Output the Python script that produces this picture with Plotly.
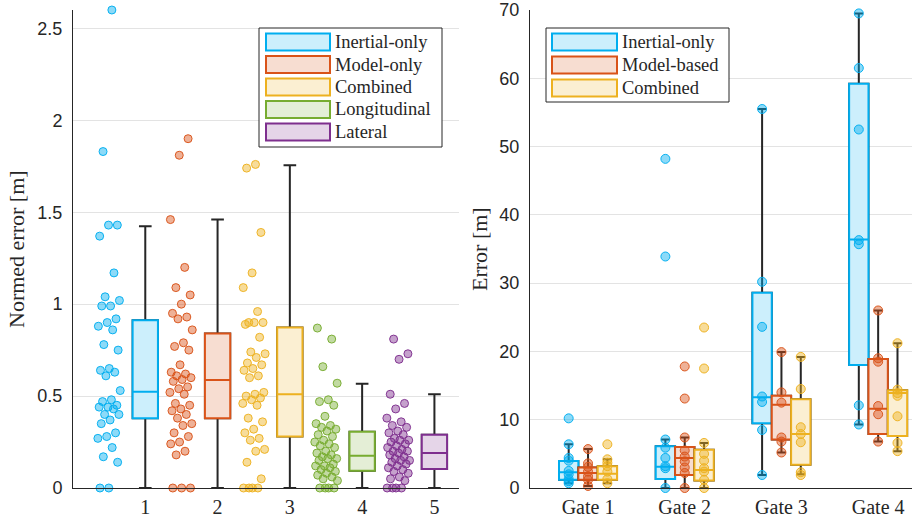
import plotly.graph_objects as go

W, H = 912, 521

# ---------------- Left panel data (Normed error [m]) ----------------
left_names = ["Inertial-only", "Model-only", "Combined", "Longitudinal", "Lateral"]
left_positions = [1, 2, 3, 4, 5]

inertial_only = [2.6, 1.83, 1.43, 1.43, 1.37, 1.17, 1.04, 1.02, 0.99, 0.99, 0.92, 0.90, 0.88,
                 0.86, 0.78, 0.75, 0.65, 0.64, 0.63, 0.61, 0.53, 0.48, 0.47, 0.45, 0.44, 0.44,
                 0.43, 0.40, 0.40, 0.37, 0.35, 0.30, 0.28, 0.27, 0.22, 0.17, 0.14, 0.0, 0.0]
model_only = [1.90, 1.81, 1.46, 1.20, 1.09, 1.05, 1.00, 0.95, 0.93, 0.92, 0.86, 0.79, 0.77,
              0.75, 0.67, 0.63, 0.62, 0.61, 0.60, 0.59, 0.58, 0.55, 0.54, 0.52, 0.51, 0.46,
              0.45, 0.43, 0.42, 0.40, 0.38, 0.35, 0.34, 0.30, 0.28, 0.25, 0.24, 0.20, 0.18,
              0.0, 0.0, 0.0]
combined = [2.00, 1.76, 1.74, 1.39, 1.17, 1.09, 0.96, 0.90, 0.90, 0.90, 0.89, 0.82, 0.74,
            0.73, 0.71, 0.68, 0.67, 0.65, 0.64, 0.61, 0.60, 0.52, 0.51, 0.50, 0.49, 0.48,
            0.46, 0.45, 0.38, 0.36, 0.32, 0.30, 0.27, 0.26, 0.21, 0.20, 0.14, 0.05,
            0.0, 0.0, 0.0, 0.0]
longitudinal = [0.87, 0.81, 0.66, 0.57, 0.48, 0.47, 0.45, 0.39, 0.35, 0.34, 0.33, 0.32, 0.31,
                0.29, 0.28, 0.26, 0.25, 0.24, 0.23, 0.22, 0.20, 0.19, 0.18, 0.17, 0.16, 0.16,
                0.15, 0.13, 0.12, 0.12, 0.11, 0.10, 0.09, 0.08, 0.07, 0.06, 0.05, 0.04,
                0.0, 0.0, 0.0, 0.0]
lateral = [0.81, 0.73, 0.70, 0.51, 0.46, 0.43, 0.38, 0.36, 0.34, 0.33, 0.31, 0.30, 0.29, 0.27,
           0.26, 0.26, 0.25, 0.24, 0.23, 0.22, 0.21, 0.20, 0.20, 0.19, 0.18, 0.17, 0.16, 0.15,
           0.15, 0.14, 0.13, 0.12, 0.11, 0.10, 0.09, 0.08, 0.06, 0.05, 0.04, 0.0, 0.0, 0.0, 0.0]
left_series = [inertial_only, model_only, combined, longitudinal, lateral]

left_q1 = [0.38, 0.38, 0.28, 0.094, 0.103]
left_median = [0.524, 0.587, 0.51, 0.176, 0.19]
left_q3 = [0.913, 0.84, 0.873, 0.306, 0.29]
left_whisker_lo = [0.0, 0.0, 0.0, 0.0, 0.0]
left_whisker_hi = [1.424, 1.46, 1.755, 0.567, 0.51]
left_yticks = [0, 0.5, 1, 1.5, 2, 2.5]
left_xticktext = ["1", "2", "3", "4", "5"]

# ---------------- Right panel data (Error [m]) ----------------
gate_labels = ["Gate 1", "Gate 2", "Gate 3", "Gate 4"]
gate_positions = [1, 2, 3, 4]
right_names = ["Inertial-only", "Model-based", "Combined"]

inertial_pts = [[10.2, 6.4, 4.4, 4.0, 2.5, 2.0, 1.3, 1.0, 0.7],
                [48.2, 33.9, 7.1, 5.9, 4.4, 3.2, 2.9, 0.0],
                [55.5, 30.2, 23.6, 13.4, 12.6, 8.5, 1.9],
                [69.5, 61.5, 52.5, 36.3, 35.7, 12.1, 9.3]]
model_pts = [[5.7, 3.6, 3.1, 2.4, 1.7, 1.2, 0.3],
             [17.8, 13.1, 7.4, 5.5, 4.6, 3.9, 3.0, 2.2, 0.0],
             [19.9, 14.0, 12.5, 7.4, 6.8, 5.2],
             [26.0, 19.0, 18.5, 12.0, 10.8, 6.8]]
combined_pts = [[6.4, 4.2, 3.7, 3.2, 2.4, 1.3, 0.7],
                [23.5, 17.5, 6.6, 5.0, 4.0, 2.9, 2.4, 1.2, 0.0],
                [19.2, 14.5, 8.9, 7.9, 6.7, 2.3, 1.9],
                [21.2, 14.4, 13.9, 13.5, 10.5, 6.6, 5.4]]
right_points = [inertial_pts, model_pts, combined_pts]

inertial_q1 = [1.2, 1.3, 9.5, 18.0]
inertial_med = [2.3, 3.1, 13.3, 36.4]
inertial_q3 = [3.95, 6.1, 28.6, 59.2]
inertial_lo = [0.7, 0.0, 1.9, 9.3]
inertial_hi = [6.4, 7.1, 55.5, 69.5]

model_q1 = [1.2, 1.9, 7.1, 7.9]
model_med = [2.2, 4.4, 12.2, 11.6]
model_q3 = [3.0, 6.0, 13.5, 18.9]
model_lo = [0.3, 0.0, 5.2, 6.8]
model_hi = [5.7, 7.4, 19.9, 26.0]

comb_q1 = [1.2, 1.1, 3.4, 7.6]
comb_med = [2.1, 2.65, 7.9, 13.9]
comb_q3 = [3.2, 5.6, 13.0, 14.3]
comb_lo = [0.7, 0.0, 2.0, 5.4]
comb_hi = [4.2, 6.6, 19.2, 21.2]

right_stats = [
    (inertial_q1, inertial_med, inertial_q3, inertial_lo, inertial_hi),
    (model_q1, model_med, model_q3, model_lo, model_hi),
    (comb_q1, comb_med, comb_q3, comb_lo, comb_hi),
]
right_yticks = [0, 10, 20, 30, 40, 50, 60, 70]

# ---------------- Styles ----------------
BLUE = (0, 174, 239)
ORANGE = (217, 83, 25)
YELLOW = (237, 177, 32)
GREEN = (119, 172, 48)
PURPLE = (126, 47, 142)
left_colors = [BLUE, ORANGE, YELLOW, GREEN, PURPLE]
right_colors = [BLUE, ORANGE, YELLOW]
DARK = "#262626"
GRID = "#e3e3e3"
SERIF = "Liberation Serif"
SANS = "Liberation Sans"


def rgba(c, a=1.0):
    return f"rgba({c[0]},{c[1]},{c[2]},{a})"


def tint(c, a=0.2):
    r, g, b = (round(255 - a * (255 - v)) for v in c)
    return f"rgb({r},{g},{b})"


def golden_jitter(n, seed, spread):
    return [(((i + 1) * 0.6180339887 + seed) % 1.0 - 0.5) * spread for i in range(n)]


fig = go.Figure()

# ---- Left panel boxes ----
for i, c in enumerate(left_colors):
    pos = [left_positions[i]]
    fig.add_trace(go.Box(
        x=pos, q1=[left_q1[i]], median=[left_median[i]], q3=[left_q3[i]],
        lowerfence=[left_whisker_lo[i]], upperfence=[left_whisker_hi[i]],
        width=0.35, whiskerwidth=0.5, boxpoints=False,
        line=dict(color=DARK, width=2), fillcolor="rgba(0,0,0,0)",
        xaxis="x", yaxis="y", showlegend=False, hoverinfo="skip"))
    fig.add_trace(go.Box(
        x=pos, q1=[left_q1[i]], median=[left_median[i]], q3=[left_q3[i]],
        lowerfence=[left_q1[i]], upperfence=[left_q3[i]],
        width=0.35, whiskerwidth=0, boxpoints=False,
        line=dict(color=rgba(c), width=2), fillcolor=tint(c, 0.2),
        xaxis="x", yaxis="y", name=left_names[i], showlegend=False))

# ---- Left panel jittered points ----
for i, c in enumerate(left_colors):
    vals = left_series[i]
    jit = golden_jitter(len(vals), 0.17 * i, 0.32)
    fig.add_trace(go.Scatter(
        x=[left_positions[i] - 0.5 + j for j in jit], y=vals, mode="markers",
        marker=dict(size=8, color=rgba(c, 0.45), line=dict(color=rgba(c, 0.95), width=1)),
        cliponaxis=False, xaxis="x", yaxis="y", showlegend=False, hoverinfo="y"))

# ---- Right panel boxes ----
offsets = [-0.2, 0.0, 0.2]
for s, c in enumerate(right_colors):
    q1, med, q3, lo, hi = right_stats[s]
    xs = [g + offsets[s] for g in gate_positions]
    fig.add_trace(go.Box(
        x=xs, q1=q1, median=med, q3=q3, lowerfence=lo, upperfence=hi,
        width=0.2, whiskerwidth=0.45, boxpoints=False,
        line=dict(color=DARK, width=2), fillcolor="rgba(0,0,0,0)",
        xaxis="x2", yaxis="y2", showlegend=False, hoverinfo="skip"))
    fig.add_trace(go.Box(
        x=xs, q1=q1, median=med, q3=q3, lowerfence=q1, upperfence=q3,
        width=0.2, whiskerwidth=0, boxpoints=False,
        line=dict(color=rgba(c), width=2), fillcolor=tint(c, 0.2),
        xaxis="x2", yaxis="y2", name=right_names[s], showlegend=False))

# ---- Right panel points ----
for s, c in enumerate(right_colors):
    xs, ys = [], []
    for g, pts in zip(gate_positions, right_points[s]):
        xs += [g + offsets[s]] * len(pts)
        ys += pts
    fig.add_trace(go.Scatter(
        x=xs, y=ys, mode="markers",
        marker=dict(size=9, color=rgba(c, 0.45), line=dict(color=rgba(c, 0.95), width=1)),
        cliponaxis=False, xaxis="x2", yaxis="y2", showlegend=False, hoverinfo="y"))


# ---------------- Layout ----------------
def px(x):
    return x / W


def py(y):
    return 1 - y / H


ydom = [py(488), py(10)]
axis_common = dict(showline=True, linecolor=DARK, linewidth=1, zeroline=False, ticks="",
                   mirror=False, automargin=False)

fig.update_layout(
    width=W, height=H, margin=dict(l=0, r=0, t=0, b=0, pad=0, autoexpand=False),
    paper_bgcolor="white", plot_bgcolor="white", boxmode="overlay",
    xaxis=dict(domain=[px(73), px(459)], range=[0, 5.34], tickvals=left_positions,
               ticktext=left_xticktext, showgrid=False,
               tickfont=dict(family=SERIF, size=20, color=DARK), ticklabelstandoff=1,
               anchor="y", **axis_common),
    yaxis=dict(domain=ydom, range=[0, 2.6], tickvals=left_yticks, showgrid=True,
               gridcolor=GRID, gridwidth=1, tickfont=dict(family=SANS, size=18, color=DARK),
               ticklabelstandoff=6, anchor="x", **axis_common),
    xaxis2=dict(domain=[px(530), 1.0], range=[0.4, 4.35], tickvals=gate_positions,
                ticktext=gate_labels, showgrid=False,
                tickfont=dict(family=SERIF, size=20, color=DARK), ticklabelstandoff=1,
                anchor="y2", **axis_common),
    yaxis2=dict(domain=ydom, range=[0, 70], tickvals=right_yticks, showgrid=True,
                gridcolor=GRID, gridwidth=1, tickfont=dict(family=SANS, size=18, color=DARK),
                ticklabelstandoff=6, anchor="x2", **axis_common),
)

annotations = [
    dict(text="Normed error [m]", x=px(17), y=py(249), xref="paper", yref="paper",
         textangle=-90, showarrow=False, font=dict(family=SERIF, size=22, color=DARK),
         xanchor="center", yanchor="middle"),
    dict(text="Error [m]", x=px(480), y=py(249), xref="paper", yref="paper",
         textangle=-90, showarrow=False, font=dict(family=SERIF, size=22, color=DARK),
         xanchor="center", yanchor="middle"),
]
shapes = []


def add_legend(names, colors, frame, sym_x, text_x, centers):
    x0, x1, y0, y1 = frame
    shapes.append(dict(type="rect", xref="paper", yref="paper", x0=px(x0), x1=px(x1),
                       y0=py(y1), y1=py(y0), fillcolor="white",
                       line=dict(color=DARK, width=1), layer="above"))
    for name, c, cy in zip(names, colors, centers):
        shapes.append(dict(type="rect", xref="paper", yref="paper", x0=px(sym_x[0]),
                           x1=px(sym_x[1]), y0=py(cy + 8.5), y1=py(cy - 8.5),
                           fillcolor=tint(c, 0.2), line=dict(color=rgba(c), width=2),
                           layer="above"))
        annotations.append(dict(text=name, x=px(text_x), y=py(cy), xref="paper", yref="paper",
                                xanchor="left", yanchor="middle", showarrow=False,
                                font=dict(family=SERIF, size=18.5, color=DARK)))


add_legend(left_names, left_colors, (259, 442, 28, 147), (266, 330), 333,
           [42, 64.5, 87, 109.5, 132])
add_legend(right_names, right_colors, (546, 729, 28, 102), (552, 617), 620,
           [42, 65, 88])

fig.update_layout(annotations=annotations, shapes=shapes)

fig.write_html("out.html")
